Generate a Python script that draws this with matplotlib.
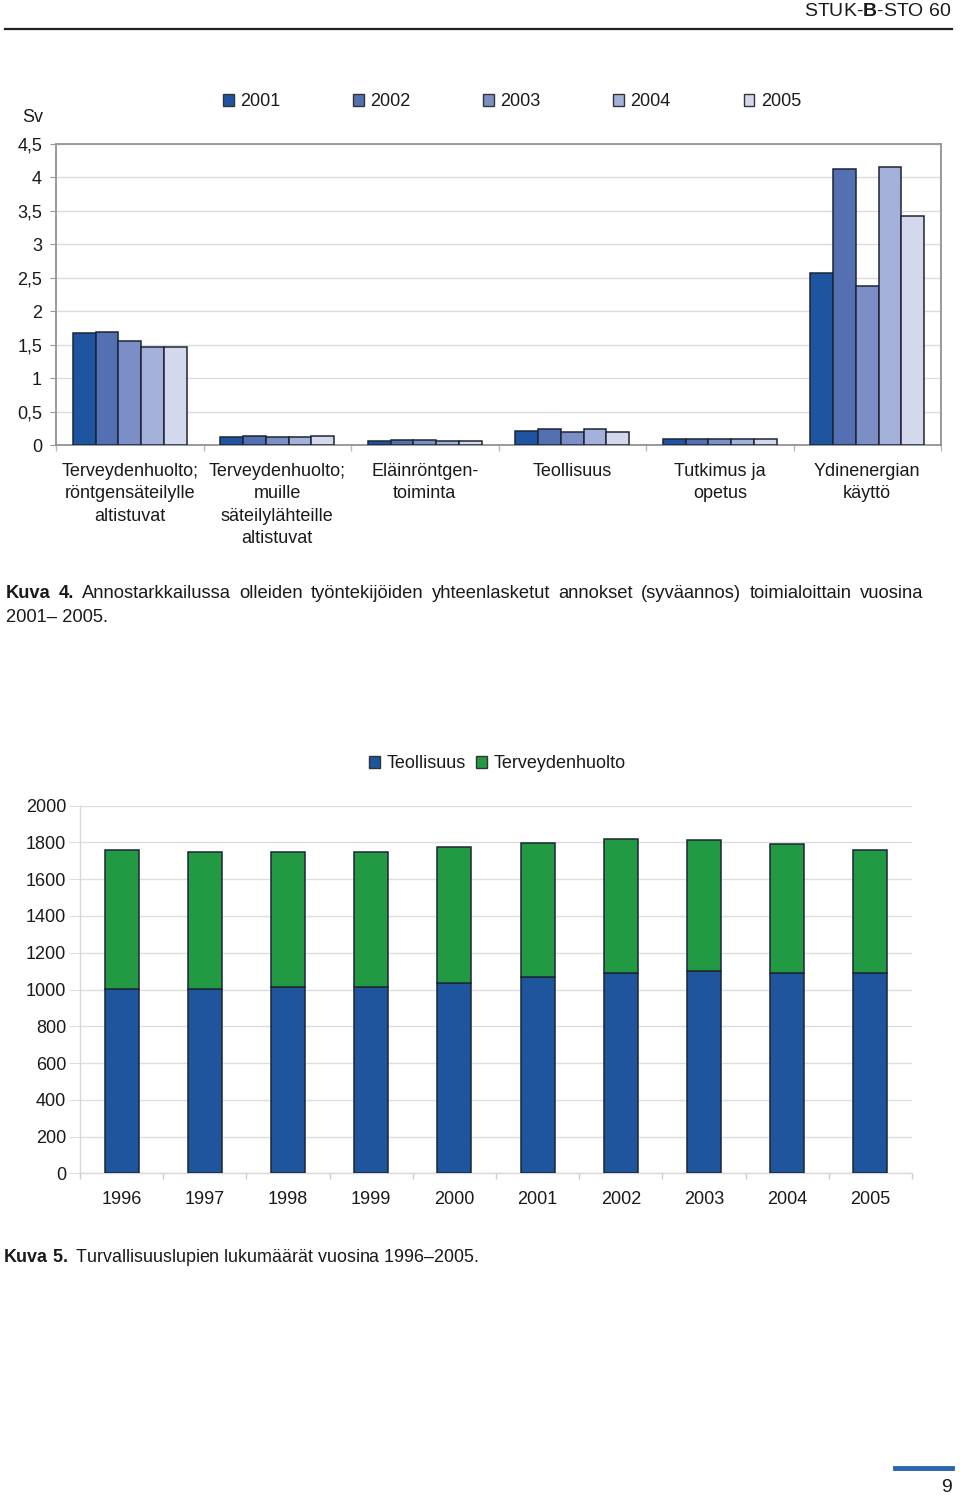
import matplotlib
matplotlib.use('Agg')
import matplotlib.pyplot as plt
import numpy as np
from matplotlib.patches import Patch
from matplotlib.lines import Line2D

plt.rcParams['font.family'] = ['Liberation Sans', 'DejaVu Sans']
plt.rcParams['mathtext.fontset'] = 'custom'
plt.rcParams['mathtext.rm'] = 'Liberation Sans'
plt.rcParams['mathtext.bf'] = 'Liberation Sans:bold'

# ---------------- data: chart 1 ----------------
categories1 = ["Terveydenhuolto;\nröntgensäteilylle\naltistuvat",
               "Terveydenhuolto;\nmuille\nsäteilylähteille\naltistuvat",
               "Eläinröntgen-\ntoiminta",
               "Teollisuus",
               "Tutkimus ja\nopetus",
               "Ydinenergian\nkäyttö"]
years1 = ["2001", "2002", "2003", "2004", "2005"]
dose_2001 = [1.67, 0.12, 0.06, 0.215, 0.095, 2.575]
dose_2002 = [1.69, 0.135, 0.08, 0.235, 0.095, 4.12]
dose_2003 = [1.55, 0.12, 0.08, 0.20, 0.095, 2.375]
dose_2004 = [1.47, 0.12, 0.055, 0.235, 0.095, 4.16]
dose_2005 = [1.47, 0.135, 0.055, 0.20, 0.095, 3.42]
yticks1 = [0, 0.5, 1, 1.5, 2, 2.5, 3, 3.5, 4, 4.5]
yticklabels1 = ["0", "0,5", "1", "1,5", "2", "2,5", "3", "3,5", "4", "4,5"]

# ---------------- data: chart 2 ----------------
years2 = ["1996", "1997", "1998", "1999", "2000", "2001", "2002", "2003", "2004", "2005"]
teollisuus = [1003, 1003, 1012, 1012, 1034, 1068, 1090, 1102, 1090, 1090]
terveydenhuolto = [758, 745, 736, 736, 741, 729, 729, 709, 701, 671]
series2 = ["Teollisuus", "Terveydenhuolto"]
yticks2 = [0, 200, 400, 600, 800, 1000, 1200, 1400, 1600, 1800, 2000]

caption4_line1 = "Annostarkkailussa olleiden työntekijöiden yhteenlasketut annokset (syväannos) toimialoittain vuosina"
caption4_line2 = "2001– 2005."
caption5 = "Turvallisuuslupien lukumäärät vuosina 1996–2005."

W, H = 960, 1498
fig = plt.figure(figsize=(W / 100, H / 100), dpi=100)

def fax(l, t, r, b):
    return fig.add_axes([l / W, 1 - b / H, (r - l) / W, (b - t) / H])

FS = 13
CFS = 12.9
CFS4 = 13.2
TXT = '#1a1a1a'
EDGE = '#1c2536'

# ---------------- header / footer ----------------
fig.text(952 / W, 1 - 12 / H, r"STUK-$\mathbf{B}$-STO 60", ha='right', va='center',
         fontsize=14, color=TXT)
fig.add_artist(Line2D([5 / W, 952 / W], [1 - 29 / H, 1 - 29 / H], color='#222222',
                      linewidth=1.6, transform=fig.transFigure))
fig.add_artist(Line2D([895 / W, 952 / W], [1 - 1468 / H, 1 - 1468 / H], color='#2a64b0',
                      linewidth=3.5, transform=fig.transFigure))
fig.text(952 / W, 1 - 1488 / H, "9", ha='right', va='center', fontsize=14, color=TXT)

# ---------------- chart 1 ----------------
ax1 = fax(56, 144, 941, 445)
colors1 = ['#1f55a0', '#5270b2', '#7b8fc6', '#a4b1da', '#d3d8ec']
doses = [dose_2001, dose_2002, dose_2003, dose_2004, dose_2005]
x1 = np.arange(len(categories1))
bw = 0.154
for i, (vals, c) in enumerate(zip(doses, colors1)):
    ax1.bar(x1 + (i - 2) * bw, vals, width=bw, color=c, edgecolor=EDGE, linewidth=1.1, zorder=3)
ax1.set_xlim(-0.5, len(categories1) - 0.5)
ax1.set_ylim(0, 4.5)
ax1.set_yticks(yticks1)
ax1.set_yticklabels(yticklabels1)
ax1.yaxis.grid(True, color='#dcdcdc', linewidth=1)
ax1.set_axisbelow(True)
ax1.set_xticks(x1)
ax1.set_xticklabels(categories1, linespacing=1.41)
ax1.set_xticks(np.arange(len(categories1) + 1) - 0.5, minor=True)
ax1.tick_params(axis='x', which='major', length=0, pad=13, labelsize=FS, labelcolor=TXT)
ax1.tick_params(axis='x', which='minor', length=4, color='#bbbbbb', width=1)
ax1.tick_params(axis='y', length=4, color='#999999', pad=6, labelsize=FS, labelcolor=TXT)
for s in ['left', 'top', 'right']:
    ax1.spines[s].set_color('#9a9a9a')
    ax1.spines[s].set_linewidth(1.4)
ax1.spines['bottom'].set_color('#8a8a8a')
ax1.spines['bottom'].set_linewidth(1.2)
fig.text(33 / W, 1 - 118 / H, "Sv", ha='center', va='center', fontsize=FS, color=TXT)

handles1 = [Patch(facecolor=c, edgecolor='#333333', linewidth=1) for c in colors1]
ax1.legend(handles1, years1, ncol=5, loc='center', bbox_to_anchor=(512 / W, 1 - 102 / H),
           bbox_transform=fig.transFigure, frameon=False, handlelength=0.6, handleheight=0.6,
           handletextpad=0.35, columnspacing=4.03, fontsize=FS, labelcolor=TXT)

# ---------------- chart 2 ----------------
ax2 = fax(80, 805.7, 912, 1173.3)
x2 = np.arange(len(years2))
bw2 = 0.41
ax2.bar(x2, teollisuus, width=bw2, color='#1f559d', edgecolor=EDGE, linewidth=1.1,
        zorder=3, label=series2[0])
ax2.bar(x2, terveydenhuolto, width=bw2, bottom=teollisuus, color='#229943', edgecolor=EDGE,
        linewidth=1.1, zorder=3, label=series2[1])
ax2.set_xlim(-0.5, len(years2) - 0.5)
ax2.set_ylim(0, 2000)
ax2.set_yticks(yticks2)
ax2.yaxis.grid(True, color='#dedede', linewidth=1)
ax2.set_axisbelow(True)
ax2.set_xticks(x2)
ax2.set_xticklabels(years2)
ax2.set_xticks(np.arange(len(years2) + 1) - 0.5, minor=True)
ax2.tick_params(axis='x', which='major', length=0, pad=13, labelsize=FS, labelcolor=TXT)
ax2.tick_params(axis='x', which='minor', length=4, color='#cccccc', width=1)
ax2.tick_params(axis='y', length=8, color='#dddddd', pad=2, labelsize=FS, labelcolor=TXT)
for s in ['top', 'right']:
    ax2.spines[s].set_visible(False)
for s in ['left', 'bottom']:
    ax2.spines[s].set_color('#d8d8d8')
    ax2.spines[s].set_linewidth(1)

h2 = [Patch(facecolor='#1f559d', edgecolor='#333333', linewidth=1),
      Patch(facecolor='#229943', edgecolor='#333333', linewidth=1)]
ax2.legend(h2, series2, ncol=2, loc='center', bbox_to_anchor=(497.5 / W, 1 - 764 / H),
           bbox_transform=fig.transFigure, frameon=False, handlelength=0.6, handleheight=0.6,
           handletextpad=0.35, columnspacing=0.6, fontsize=FS, labelcolor=TXT)

# ---------------- captions ----------------
renderer = fig.canvas.get_renderer()

def justified(tokens, x0, x1, y, size):
    arts = []
    for word, weight in tokens:
        t = fig.text(0, 1 - y / H, word, ha='left', va='center', fontsize=size,
                     fontweight=weight, color=TXT)
        arts.append(t)
    widths = [a.get_window_extent(renderer).width for a in arts]
    gap = (x1 - x0 - sum(widths)) / (len(arts) - 1)
    x = x0
    for a, w in zip(arts, widths):
        a.set_x(x / W)
        x += w + gap

tokens4 = [("Kuva", 'bold'), ("4.", 'bold')] + [(w, 'normal') for w in caption4_line1.split(' ')]
justified(tokens4, 6, 923, 593, CFS4)
fig.text(6 / W, 1 - 617 / H, caption4_line2, ha='left', va='center', fontsize=CFS4, color=TXT)

fig.text(3 / W, 1 - 1257 / H, r"$\mathbf{Kuva\ 5.}$ " + caption5,
         ha='left', va='center', fontsize=CFS, color=TXT)

fig.savefig('out.png', dpi=100)
